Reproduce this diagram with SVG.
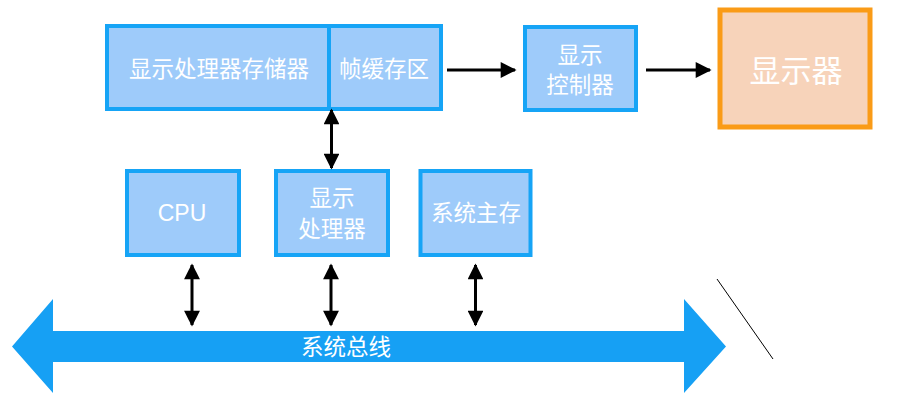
<svg xmlns="http://www.w3.org/2000/svg" width="908" height="401" viewBox="0 0 908 401">
<defs>
<style>
.box{fill:#9ECBFA;stroke:#16A4F6;stroke-width:4}
.mon{fill:#F7D3BA;stroke:#FA9B17;stroke-width:5}
.t{fill:#FFFFFF;font-family:"Noto Sans CJK SC","Liberation Sans",sans-serif;font-size:22.5px;text-anchor:middle;dominant-baseline:central}
.lat{font-family:"Liberation Sans","Noto Sans CJK SC",sans-serif}
.con{stroke:#000;stroke-width:3;fill:none}
</style>
<marker id="ah" viewBox="0 0 10 10" refX="9" refY="5" markerWidth="5.5" markerHeight="5.3" markerUnits="strokeWidth" orient="auto-start-reverse">
<path d="M0,0 L10,5 L0,10 Z" fill="#000"/>
</marker>
</defs>
<rect width="908" height="401" fill="#FFFFFF"/>
<g id="bus">
<polygon points="12,346.5 53,299 53,331 684,331 684,299 726,346.5 684,393 684,362 53,362 53,393" fill="#16A0F4"/>
<text class="t" x="346" y="345">系统总线</text>
</g>
<g id="frame-mem">
<rect class="box" x="107" y="26" width="222" height="83"/>
<text class="t" x="219" y="66.5">显示处理器存储器</text>
</g>
<g id="frame-buffer">
<rect class="box" x="329" y="26" width="112" height="83"/>
<text class="t" x="384" y="66.5">帧缓存区</text>
</g>
<g id="display-controller">
<rect class="box" x="525" y="27" width="111" height="83"/>
<text class="t" x="580" y="52.5">显示</text>
<text class="t" x="580" y="83">控制器</text>
</g>
<g id="monitor">
<rect class="mon" x="720" y="10" width="150" height="117"/>
<text class="t" x="796" y="68" style="font-size:31px">显示器</text>
</g>
<g id="cpu">
<rect class="box" x="127" y="171" width="112" height="84"/>
<text class="t lat" x="182" y="213" style="font-size:23px">CPU</text>
</g>
<g id="display-processor">
<rect class="box" x="276" y="171" width="112" height="84"/>
<text class="t" x="332" y="196">显示</text>
<text class="t" x="332" y="227">处理器</text>
</g>
<g id="system-memory">
<rect class="box" x="420.5" y="171" width="110" height="84"/>
<text class="t" x="476" y="210.5">系统主存</text>
</g>
<g id="connectors">
<line class="con" x1="447" y1="70" x2="515" y2="70" marker-end="url(#ah)"/>
<line class="con" x1="646" y1="70" x2="710" y2="70" marker-end="url(#ah)"/>
<line class="con" x1="331.5" y1="110" x2="331.5" y2="168" marker-start="url(#ah)" marker-end="url(#ah)"/>
<line class="con" x1="192" y1="265" x2="192" y2="325" marker-start="url(#ah)" marker-end="url(#ah)"/>
<line class="con" x1="331" y1="265" x2="331" y2="325" marker-start="url(#ah)" marker-end="url(#ah)"/>
<line class="con" x1="475.5" y1="265" x2="475.5" y2="325" marker-start="url(#ah)" marker-end="url(#ah)"/>
<line x1="717" y1="279" x2="773" y2="359" stroke="#000" stroke-width="1"/>
</g>
</svg>
